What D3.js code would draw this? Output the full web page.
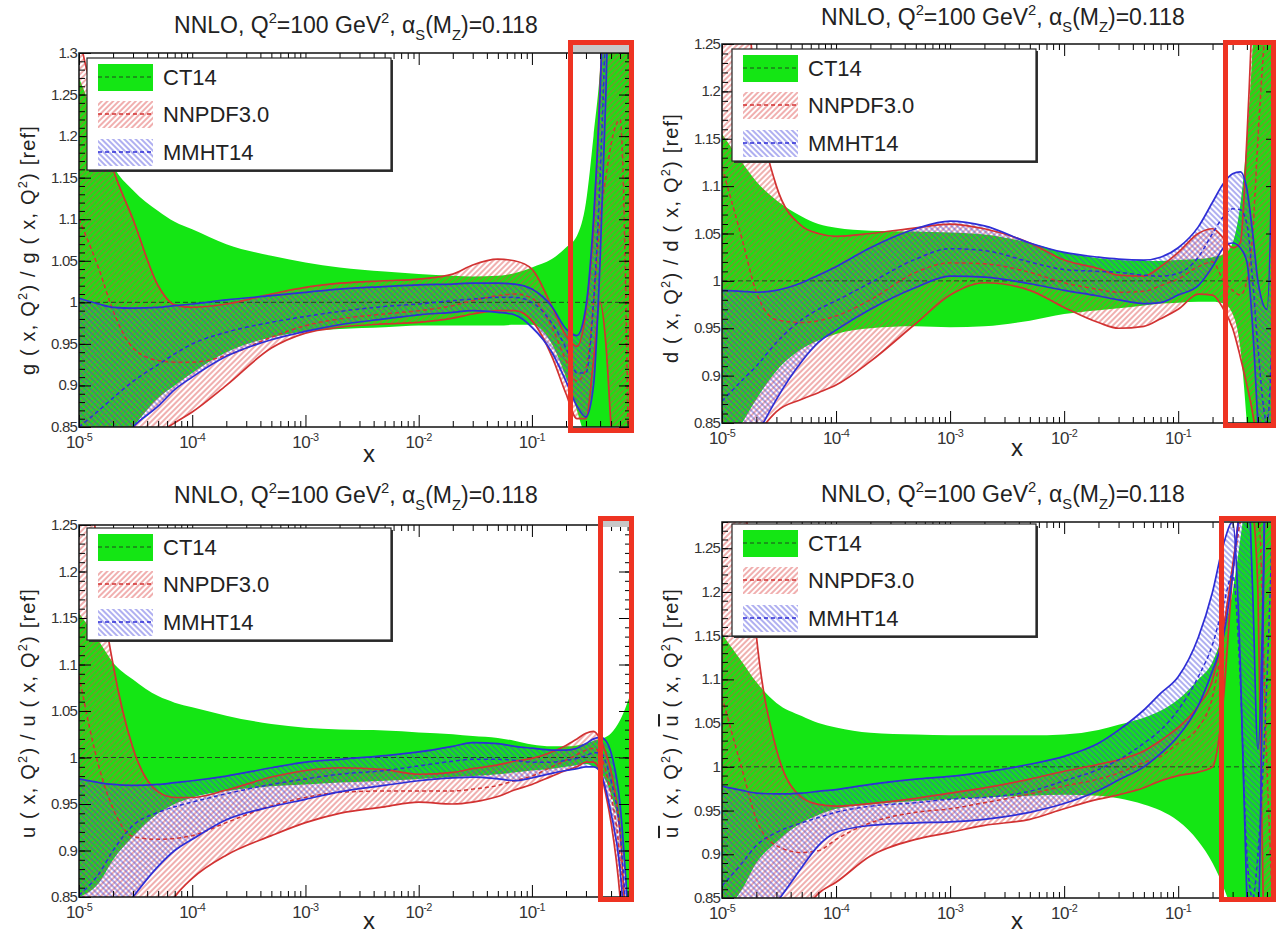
<!DOCTYPE html>
<html>
<head>
<meta charset="utf-8">
<script src="https://cdn.jsdelivr.net/npm/d3@7"></script>
<style>
  body { margin: 0; background: #fff; }
  text { font-family: "Liberation Sans", Arial, Helvetica, sans-serif; }
</style>
</head>
<body>
<div id="chart"></div>
<script>
// x grid shared by every curve (at these x values)
var xGrid = [1e-5, 1.5e-5, 2e-5, 3e-5, 5e-5, 7e-5, 1e-4, 2e-4, 5e-4, 1e-3, 2e-3, 5e-3, 1e-2, 2e-2, 3e-2, 5e-2, 7e-2, 0.1, 0.15, 0.2, 0.25, 0.3, 0.35, 0.4, 0.45, 0.5, 0.6, 0.75];

// gluon
var gCtHi = [1.27, 1.21, 1.165, 1.135, 1.11, 1.097, 1.088, 1.07, 1.056, 1.048, 1.042, 1.037, 1.034, 1.032, 1.031, 1.032, 1.035, 1.042, 1.052, 1.066, 1.08, 1.12, 1.2, 1.28, 1.4, 1.6, 2.0, 2.5];
var gCtLo = [0.75, 0.79, 0.82, 0.85, 0.885, 0.9, 0.915, 0.94, 0.958, 0.965, 0.968, 0.97, 0.972, 0.972, 0.972, 0.972, 0.973, 0.973, 0.95, 0.91, 0.87, 0.83, 0.78, 0.7, 0.6, 0.5, 0.4, 0.3];
var gNnHi = [1.32, 1.22, 1.16, 1.1, 1.02, 0.997, 0.994, 0.998, 1.01, 1.018, 1.023, 1.026, 1.028, 1.034, 1.045, 1.052, 1.05, 1.04, 0.995, 0.96, 0.947, 0.99, 1.09, 1.26, 1.45, 1.7, 2.0, 2.5];
var gNnLo = [0.6, 0.65, 0.7, 0.78, 0.84, 0.855, 0.868, 0.9, 0.945, 0.963, 0.97, 0.974, 0.976, 0.981, 0.986, 0.99, 0.99, 0.978, 0.935, 0.89, 0.86, 0.86, 0.93, 1.0, 0.95, 0.85, 0.7, 0.5];
var gNnMid = [1.1, 1.04, 0.99, 0.945, 0.93, 0.928, 0.928, 0.936, 0.958, 0.972, 0.98, 0.986, 0.99, 0.996, 1.002, 1.008, 1.01, 1.005, 0.97, 0.93, 0.905, 0.92, 1.0, 1.1, 1.15, 1.19, 1.22, 0.6];
var gMmHi = [1.005, 0.998, 0.994, 0.993, 0.994, 0.996, 0.998, 1.003, 1.008, 1.012, 1.016, 1.019, 1.021, 1.022, 1.023, 1.023, 1.022, 1.016, 0.995, 0.968, 0.96, 0.995, 1.1, 1.25, 1.45, 1.7, 2.0, 2.5];
var gMmLo = [0.78, 0.8, 0.82, 0.85, 0.875, 0.895, 0.91, 0.935, 0.955, 0.965, 0.973, 0.98, 0.985, 0.988, 0.99, 0.988, 0.985, 0.97, 0.94, 0.905, 0.875, 0.862, 0.9, 1.05, 1.25, 1.5, 1.8, 2.0];
var gMmMid = [0.85, 0.87, 0.885, 0.905, 0.925, 0.938, 0.95, 0.964, 0.976, 0.983, 0.989, 0.995, 0.998, 1.002, 1.004, 1.006, 1.006, 1.0, 0.975, 0.945, 0.915, 0.915, 1.0, 1.15, 1.35, 1.6, 1.9, 2.2];

// d quark
var dCtHi = [1.155, 1.125, 1.105, 1.085, 1.068, 1.06, 1.056, 1.053, 1.052, 1.051, 1.049, 1.04, 1.03, 1.024, 1.022, 1.021, 1.021, 1.022, 1.023, 1.025, 1.028, 1.04, 1.08, 1.15, 1.25, 1.4, 1.8, 2.5];
var dCtLo = [0.82, 0.85, 0.875, 0.905, 0.928, 0.937, 0.944, 0.95, 0.952, 0.951, 0.952, 0.958, 0.965, 0.969, 0.971, 0.974, 0.976, 0.977, 0.978, 0.978, 0.976, 0.965, 0.93, 0.85, 0.75, 0.6, 0.4, 0.3];
var dNnHi = [1.6, 1.35, 1.2, 1.1, 1.058, 1.05, 1.047, 1.05, 1.056, 1.06, 1.055, 1.04, 1.022, 1.013, 1.006, 1.005, 1.015, 1.03, 1.05, 1.055, 1.045, 1.035, 1.04, 1.15, 1.3, 1.5, 2.0, 2.5];
var dNnLo = [0.7, 0.78, 0.83, 0.862, 0.875, 0.882, 0.89, 0.915, 0.955, 0.985, 0.998, 0.99, 0.972, 0.956, 0.95, 0.952, 0.96, 0.97, 0.986, 0.985, 0.97, 0.95, 0.92, 0.89, 0.86, 0.82, 0.7, 0.5];
var dNnMid = [1.12, 1.044, 0.988, 0.959, 0.956, 0.958, 0.963, 0.98, 1.009, 1.019, 1.018, 1.009, 0.998, 0.991, 0.988, 0.989, 0.995, 1.002, 1.015, 1.02, 1.0, 0.99, 0.985, 1.0, 1.05, 1.15, 1.3, 1.5];
var dMmHi = [0.99, 0.989, 0.988, 0.99, 0.998, 1.006, 1.015, 1.035, 1.055, 1.063, 1.058, 1.04, 1.03, 1.025, 1.023, 1.022, 1.025, 1.035, 1.057, 1.083, 1.103, 1.113, 1.115, 1.097, 1.05, 1.0, 0.97, 1.6];
var dMmLo = [0.77, 0.8, 0.835, 0.875, 0.915, 0.935, 0.948, 0.97, 0.993, 1.005, 1.004, 0.997, 0.99, 0.984, 0.98, 0.976, 0.977, 0.985, 0.995, 1.015, 1.035, 1.04, 1.035, 1.02, 0.95, 0.85, 0.7, 0.5];
var dMmMid = [0.873, 0.895, 0.91, 0.935, 0.959, 0.97, 0.979, 0.998, 1.023, 1.034, 1.032, 1.02, 1.012, 1.01, 1.009, 1.006, 1.005, 1.008, 1.025, 1.05, 1.068, 1.076, 1.075, 1.06, 1.0, 0.93, 0.85, 1.2];

// u quark
var uCtHi = [1.155, 1.125, 1.102, 1.084, 1.066, 1.059, 1.054, 1.045, 1.036, 1.032, 1.03, 1.029, 1.027, 1.025, 1.023, 1.021, 1.018, 1.014, 1.012, 1.012, 1.013, 1.015, 1.018, 1.02, 1.022, 1.026, 1.04, 1.07];
var uCtLo = [0.85, 0.865, 0.89, 0.915, 0.94, 0.95, 0.957, 0.964, 0.969, 0.971, 0.973, 0.975, 0.977, 0.979, 0.98, 0.982, 0.984, 0.986, 0.988, 0.99, 0.992, 0.993, 0.99, 0.985, 0.975, 0.96, 0.92, 0.8];
var uNnHi = [1.5, 1.2, 1.1, 1.01, 0.963, 0.957, 0.957, 0.965, 0.979, 0.986, 0.989, 0.987, 0.982, 0.984, 0.988, 0.992, 0.996, 0.999, 1.006, 1.013, 1.02, 1.026, 1.028, 1.02, 1.005, 0.985, 0.92, 0.7];
var uNnLo = [0.6, 0.65, 0.7, 0.76, 0.82, 0.85, 0.87, 0.895, 0.916, 0.93, 0.94, 0.947, 0.952, 0.95, 0.952, 0.958, 0.965, 0.971, 0.98, 0.986, 0.99, 0.995, 0.995, 0.985, 0.96, 0.93, 0.85, 0.65];
var uNnMid = [1.088, 0.99, 0.945, 0.915, 0.912, 0.913, 0.916, 0.93, 0.948, 0.957, 0.9625, 0.964, 0.964, 0.964, 0.966, 0.97, 0.975, 0.98, 0.99, 0.997, 1.003, 1.008, 1.01, 1.004, 0.985, 0.96, 0.89, 0.68];
var uMmHi = [0.977, 0.973, 0.971, 0.97, 0.971, 0.973, 0.975, 0.98, 0.989, 0.995, 0.998, 1.002, 1.006, 1.012, 1.016, 1.015, 1.012, 1.01, 1.008, 1.008, 1.01, 1.015, 1.02, 1.022, 1.018, 1.005, 0.95, 0.78];
var uMmLo = [0.78, 0.8, 0.82, 0.85, 0.883, 0.9, 0.912, 0.933, 0.947, 0.955, 0.963, 0.97, 0.975, 0.978, 0.979, 0.977, 0.975, 0.978, 0.983, 0.986, 0.988, 0.99, 0.99, 0.985, 0.965, 0.94, 0.88, 0.7];
var uMmMid = [0.852, 0.875, 0.9, 0.927, 0.941, 0.947, 0.952, 0.961, 0.971, 0.977, 0.982, 0.986, 0.991, 0.996, 0.998, 0.998, 0.997, 0.995, 0.995, 0.997, 0.999, 1.002, 1.005, 1.005, 0.995, 0.975, 0.92, 0.74];

// u-bar
var ubCtHi = [1.152, 1.12, 1.097, 1.073, 1.058, 1.05, 1.045, 1.039, 1.037, 1.036, 1.036, 1.036, 1.037, 1.042, 1.048, 1.056, 1.064, 1.077, 1.1, 1.12, 1.155, 1.2, 1.26, 1.32, 1.4, 1.5, 1.8, 2.5];
var ubCtLo = [0.83, 0.86, 0.89, 0.914, 0.936, 0.945, 0.952, 0.957, 0.961, 0.963, 0.965, 0.967, 0.968, 0.967, 0.964, 0.957, 0.95, 0.938, 0.915, 0.89, 0.862, 0.83, 0.78, 0.7, 0.6, 0.5, 0.4, 0.3];
var ubNnHi = [1.6, 1.35, 1.15, 1.02, 0.965, 0.957, 0.955, 0.958, 0.964, 0.97, 0.976, 0.986, 0.995, 1.003, 1.008, 1.018, 1.03, 1.045, 1.07, 1.1, 1.16, 1.23, 1.3, 1.4, 1.5, 1.6, 1.8, 2.0];
var ubNnLo = [0.6, 0.65, 0.7, 0.76, 0.83, 0.855, 0.868, 0.898, 0.917, 0.925, 0.933, 0.94, 0.952, 0.963, 0.968, 0.976, 0.984, 0.99, 0.994, 1.0, 1.08, 1.22, 1.3, 1.35, 1.3, 1.2, 0.6, 0.4];
var ubNnMid = [1.08, 0.997, 0.94, 0.91, 0.902, 0.904, 0.917, 0.936, 0.948, 0.952, 0.959, 0.969, 0.978, 0.986, 0.993, 1.005, 1.012, 1.027, 1.045, 1.08, 1.15, 1.22, 1.28, 1.3, 1.3, 1.3, 1.0, 0.7];
var ubMmHi = [0.978, 0.973, 0.97, 0.969, 0.97, 0.972, 0.974, 0.98, 0.986, 0.989, 0.994, 1.003, 1.012, 1.027, 1.042, 1.065, 1.084, 1.103, 1.148, 1.2, 1.255, 1.28, 1.12, 0.85, 0.75, 0.8, 1.5, 2.0];
var ubMmLo = [0.78, 0.8, 0.82, 0.845, 0.885, 0.91, 0.925, 0.933, 0.936, 0.937, 0.94, 0.948, 0.958, 0.973, 0.985, 1.0, 1.015, 1.035, 1.07, 1.11, 1.15, 1.22, 1.3, 1.35, 1.2, 1.02, 1.4, 1.8];
var ubMmMid = [0.864, 0.89, 0.91, 0.925, 0.936, 0.942, 0.948, 0.955, 0.959, 0.963, 0.965, 0.972, 0.984, 0.997, 1.008, 1.027, 1.042, 1.065, 1.103, 1.14, 1.186, 1.22, 1.1, 0.9, 0.85, 0.9, 1.1, 1.5];

// tick values and labels
var xMajorTicks = [1e-5, 1e-4, 1e-3, 1e-2, 1e-1];
var xMajorExp = ["-5", "-4", "-3", "-2", "-1"];
var yTicksG = [0.85, 0.9, 0.95, 1, 1.05, 1.1, 1.15, 1.2, 1.25, 1.3];
var yLabelsG = ["0.85", "0.9", "0.95", "1", "1.05", "1.1", "1.15", "1.2", "1.25", "1.3"];
var yTicksQ = [0.85, 0.9, 0.95, 1, 1.05, 1.1, 1.15, 1.2, 1.25];
var yLabelsQ = ["0.85", "0.9", "0.95", "1", "1.05", "1.1", "1.15", "1.2", "1.25"];
var legendNames = ["CT14", "NNPDF3.0", "MMHT14"];

var green = "#14e614", red = "#d23232", blue = "#2e2ed6";

var svg = d3.select("#chart").append("svg")
    .attr("width", 1276)
    .attr("height", 936);
var defs = svg.append("defs");

// hatch patterns (red "////", blue "\\\\")
function hatch(id, color, angle) {
  var p = defs.append("pattern")
      .attr("id", id)
      .attr("patternUnits", "userSpaceOnUse")
      .attr("width", 4)
      .attr("height", 4)
      .attr("patternTransform", "rotate(" + angle + ")");
  p.append("line")
      .attr("x1", 1).attr("y1", 0).attr("x2", 1).attr("y2", 4)
      .attr("stroke", color)
      .attr("stroke-width", 1)
      .attr("stroke-opacity", 0.85);
}
hatch("hatchRed", "#dd4444", 45);
hatch("hatchBlue", "#4444dd", -45);

// text with sup/sub/overline parts
function rich(sel, parts, size) {
  var shift = 0;
  parts.forEach(function(p) {
    var t = sel.append("tspan").text(p[0]);
    var target = 0;
    if (p[1] == "sup") { target = -size * 0.42; t.attr("font-size", size * 0.64); }
    if (p[1] == "sub") { target = size * 0.32; t.attr("font-size", size * 0.64); }
    if (p[1] == "over") t.style("text-decoration", "overline");
    if (target != shift) t.attr("dy", target - shift);
    shift = target;
  });
}

var panels = [
  { id: "g", left: 79, right: 631, top: 53, bottom: 427, yMax: 1.3, yTicks: yTicksG, yLabels: yLabelsG,
    ct: [gCtLo, gCtHi], nn: [gNnLo, gNnHi, gNnMid], mm: [gMmLo, gMmHi, gMmMid],
    legend: [87, 58], title: [356, 33], xt: [369, 462], yt: [28, 250],
    ytitle: [["g ( x, Q", "n"], ["2", "sup"], [") / g ( x, Q", "n"], ["2", "sup"], [") [ref]", "n"]],
    box: [570.5, 42.5, 61, 388], bar: [572, 45, 59, 7] },
  { id: "d", left: 722, right: 1278, top: 44, bottom: 423, yMax: 1.25, yTicks: yTicksQ, yLabels: yLabelsQ,
    ct: [dCtLo, dCtHi], nn: [dNnLo, dNnHi, dNnMid], mm: [dMmLo, dMmHi, dMmMid],
    legend: [732, 49], title: [1003, 25], xt: [1017, 456], yt: [671, 238],
    ytitle: [["d ( x, Q", "n"], ["2", "sup"], [") / d ( x, Q", "n"], ["2", "sup"], [") [ref]", "n"]],
    box: [1225.5, 42.5, 48, 383], bar: null },
  { id: "u", left: 79, right: 631, top: 525, bottom: 897, yMax: 1.25, yTicks: yTicksQ, yLabels: yLabelsQ,
    ct: [uCtLo, uCtHi], nn: [uNnLo, uNnHi, uNnMid], mm: [uMmLo, uMmHi, uMmMid],
    legend: [87, 528], title: [356, 503], xt: [369, 929], yt: [28, 713],
    ytitle: [["u ( x, Q", "n"], ["2", "sup"], [") / u ( x, Q", "n"], ["2", "sup"], [") [ref]", "n"]],
    box: [600.5, 518.5, 31, 381], bar: [602, 521, 28, 6] },
  { id: "ub", left: 722, right: 1278, top: 522, bottom: 898, yMax: 1.28, yTicks: yTicksQ, yLabels: yLabelsQ,
    ct: [ubCtLo, ubCtHi], nn: [ubNnLo, ubNnHi, ubNnMid], mm: [ubMmLo, ubMmHi, ubMmMid],
    legend: [732, 524], title: [1003, 502], xt: [1017, 929], yt: [671, 713],
    ytitle: [["u", "over"], [" ( x, Q", "n"], ["2", "sup"], [") / ", "n"], ["u", "over"], [" ( x, Q", "n"], ["2", "sup"], [") [ref]", "n"]],
    box: [1221.5, 518.5, 52, 381], bar: null }
];

function drawPanel(p) {
  var g = svg.append("g");
  var x = d3.scaleLog().domain([1e-5, 0.75]).range([p.left, p.right]);
  var y = d3.scaleLinear().domain([0.85, p.yMax]).range([p.bottom, p.top]);

  defs.append("clipPath").attr("id", "clip-" + p.id)
    .append("rect")
      .attr("x", p.left).attr("y", p.top)
      .attr("width", p.right - p.left).attr("height", p.bottom - p.top);
  var plot = g.append("g").attr("clip-path", "url(#clip-" + p.id + ")");

  var band = function(lo, hi) {
    return xGrid.map(function(v, i) { return { x: v, lo: lo[i], hi: hi[i] }; });
  };
  var pts = function(arr) {
    return xGrid.map(function(v, i) { return [v, arr[i]]; });
  };
  var area = d3.area()
      .x(function(d) { return x(d.x); })
      .y0(function(d) { return y(d.lo); })
      .y1(function(d) { return y(d.hi); })
      .curve(d3.curveMonotoneX);
  var line = d3.line()
      .x(function(d) { return x(d[0]); })
      .y(function(d) { return y(d[1]); })
      .curve(d3.curveMonotoneX);

  // bands
  plot.append("path").datum(band(p.ct[0], p.ct[1])).attr("d", area).attr("fill", green);
  plot.append("path").datum(band(p.nn[0], p.nn[1])).attr("d", area).attr("fill", "url(#hatchRed)");
  plot.append("path").datum(band(p.mm[0], p.mm[1])).attr("d", area).attr("fill", "url(#hatchBlue)");

  // CT14 central = 1
  plot.append("line")
      .attr("x1", p.left).attr("x2", p.right)
      .attr("y1", y(1)).attr("y2", y(1))
      .attr("stroke", "#222").attr("stroke-width", 0.8)
      .attr("stroke-dasharray", "5,3");

  // edges and centrals
  [[p.nn, red], [p.mm, blue]].forEach(function(s) {
    [0, 1].forEach(function(k) {
      plot.append("path").datum(pts(s[0][k])).attr("d", line)
          .attr("fill", "none").attr("stroke", s[1]).attr("stroke-width", 1.7);
    });
    plot.append("path").datum(pts(s[0][2])).attr("d", line)
        .attr("fill", "none").attr("stroke", s[1]).attr("stroke-width", 1.5)
        .attr("stroke-dasharray", "4,3");
  });

  // axes with inward ticks
  var isMajor = function(v) { var l = Math.log10(v); return Math.abs(l - Math.round(l)) < 1e-6; };
  var xMinor = x.ticks().filter(function(v) { return !isMajor(v); });
  var yMinor = d3.range(85, Math.round(p.yMax * 100) + 1).map(function(v) { return v / 100; });
  var strip = function(s) { s.select(".domain").remove(); s.selectAll("text").remove(); };

  g.append("g").attr("transform", "translate(0," + p.bottom + ")")
      .call(d3.axisBottom(x).tickValues(xMajorTicks).tickSize(-12)).call(strip);
  g.append("g").attr("transform", "translate(0," + p.bottom + ")")
      .call(d3.axisBottom(x).tickValues(xMinor).tickSize(-6)).call(strip);
  g.append("g").attr("transform", "translate(0," + p.top + ")")
      .call(d3.axisTop(x).tickValues(xMajorTicks).tickSize(-12)).call(strip);
  g.append("g").attr("transform", "translate(0," + p.top + ")")
      .call(d3.axisTop(x).tickValues(xMinor).tickSize(-6)).call(strip);
  g.append("g").attr("transform", "translate(" + p.left + ",0)")
      .call(d3.axisLeft(y).tickValues(p.yTicks).tickSize(-12)).call(strip);
  g.append("g").attr("transform", "translate(" + p.left + ",0)")
      .call(d3.axisLeft(y).tickValues(yMinor).tickSize(-6)).call(strip);
  g.append("g").attr("transform", "translate(" + p.right + ",0)")
      .call(d3.axisRight(y).tickValues(p.yTicks).tickSize(-12)).call(strip);
  g.append("g").attr("transform", "translate(" + p.right + ",0)")
      .call(d3.axisRight(y).tickValues(yMinor).tickSize(-6)).call(strip);

  g.append("rect")
      .attr("x", p.left).attr("y", p.top)
      .attr("width", p.right - p.left).attr("height", p.bottom - p.top)
      .attr("fill", "none").attr("stroke", "#111").attr("stroke-width", 1.5);

  // y tick labels
  g.selectAll(".ylab").data(p.yTicks).enter().append("text")
      .attr("x", p.left - 2)
      .attr("y", function(d) { return y(d) + 5; })
      .attr("text-anchor", "end")
      .attr("font-size", 15)
      .attr("letter-spacing", -0.8)
      .attr("fill", "#333")
      .text(function(d, i) { return p.yLabels[i]; });

  // x tick labels 10^n
  xMajorTicks.forEach(function(v, i) {
    var t = g.append("text")
        .attr("x", x(v)).attr("y", p.bottom + 21)
        .attr("text-anchor", "middle")
        .attr("font-size", 17)
        .attr("letter-spacing", -0.6)
        .attr("fill", "#333");
    rich(t, [["10", "n"], [xMajorExp[i], "sup"]], 17);
  });

  // axis titles
  g.append("text").attr("x", p.xt[0]).attr("y", p.xt[1])
      .attr("text-anchor", "middle").attr("font-size", 24).attr("fill", "#222").text("x");
  var yt = g.append("text")
      .attr("transform", "translate(" + p.yt[0] + "," + p.yt[1] + ") rotate(-90)")
      .attr("text-anchor", "middle").attr("dy", "0.35em")
      .attr("font-size", 20).attr("letter-spacing", 1.2).attr("fill", "#222");
  rich(yt, p.ytitle, 20);

  // panel title
  var tt = g.append("text").attr("x", p.title[0]).attr("y", p.title[1])
      .attr("text-anchor", "middle").attr("font-size", 23).attr("fill", "#222");
  rich(tt, [["NNLO, Q", "n"], ["2", "sup"], ["=100 GeV", "n"], ["2", "sup"], [", \u03b1", "n"],
            ["S", "sub"], ["(M", "n"], ["Z", "sub"], [")=0.118", "n"]], 23);

  // legend
  var lg = g.append("g").attr("transform", "translate(" + p.legend[0] + "," + p.legend[1] + ")");
  lg.append("rect").attr("x", 2).attr("y", 2).attr("width", 304).attr("height", 112).attr("fill", "#333");
  lg.append("rect").attr("width", 304).attr("height", 112)
      .attr("fill", "#fff").attr("stroke", "#222").attr("stroke-width", 1.2);
  var rows = [19, 56, 94];
  var fills = [green, "url(#hatchRed)", "url(#hatchBlue)"];
  var lineCols = ["#222", red, blue];
  legendNames.forEach(function(name, i) {
    lg.append("rect").attr("x", 11).attr("y", rows[i] - 13).attr("width", 55).attr("height", 27)
        .attr("fill", fills[i]);
    lg.append("line").attr("x1", 11).attr("x2", 66).attr("y1", rows[i]).attr("y2", rows[i])
        .attr("stroke", lineCols[i]).attr("stroke-width", i == 0 ? 0.8 : 1.4)
        .attr("stroke-dasharray", "4,3");
    lg.append("text").attr("x", 76).attr("y", rows[i]).attr("dy", "0.36em")
        .attr("font-size", 22).attr("fill", "#222").text(name);
  });

  // highlight box
  if (p.bar) {
    svg.append("rect").attr("x", p.bar[0]).attr("y", p.bar[1])
        .attr("width", p.bar[2]).attr("height", p.bar[3]).attr("fill", "#c8c8c8");
  }
  svg.append("rect")
      .attr("x", p.box[0]).attr("y", p.box[1])
      .attr("width", p.box[2]).attr("height", p.box[3])
      .attr("fill", "none").attr("stroke", "#ee3322").attr("stroke-width", 5);
}

panels.forEach(drawPanel);
</script>
</body>
</html>
